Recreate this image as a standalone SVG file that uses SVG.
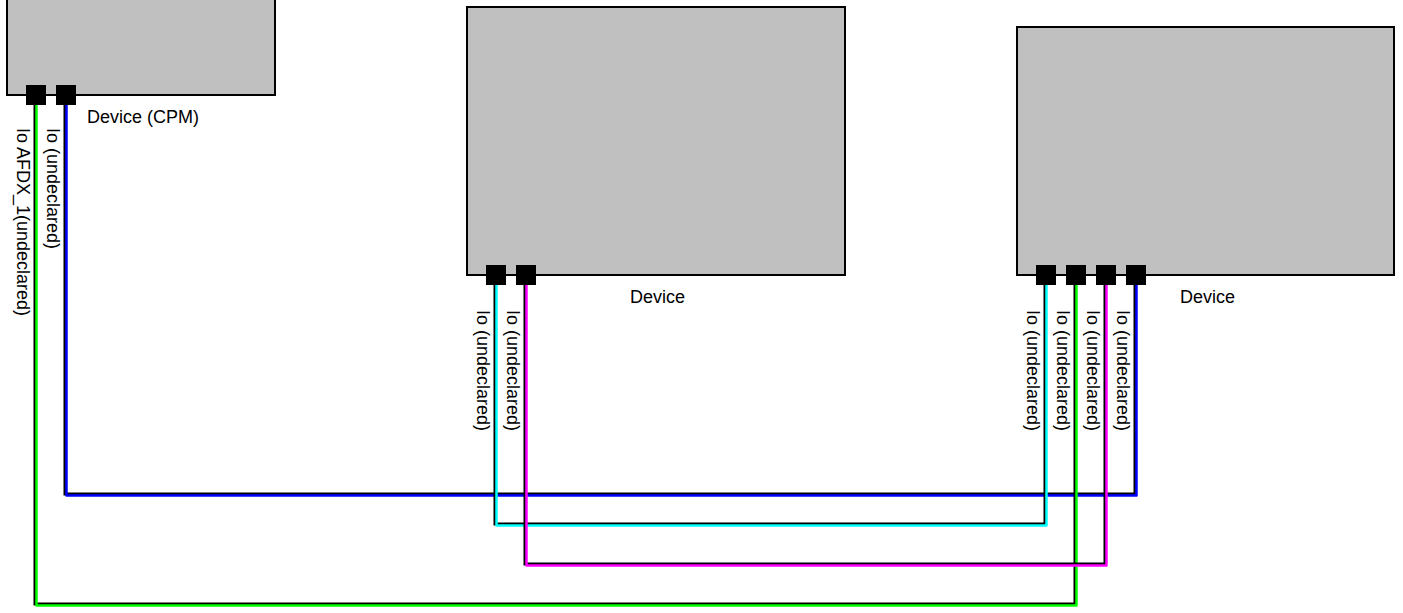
<svg xmlns="http://www.w3.org/2000/svg" width="1403" height="613" viewBox="0 0 1403 613">
<style>
.box{fill:#c0c0c0;stroke:#000;stroke-width:2}
.port{fill:#000}
text{font-family:"Liberation Sans",Arial,sans-serif;font-size:18px;fill:#000}
.under{fill:none;stroke:#000;stroke-width:3}
.wire{fill:none;stroke-width:2.5;stroke-linejoin:round}
</style>
<rect width="1403" height="613" fill="#fff"/>
<g id="connectors">
  <g id="c-blue">
    <polyline class="under" points="65,105 65,494 1135,494 1135,285"/>
    <polyline class="wire" stroke="#0000ff" points="66.5,105 66.5,495.5 1136.5,495.5 1136.5,285"/>
  </g>
  <g id="c-green">
    <polyline class="under" points="35,105 35,604 1075,604 1075,285"/>
    <polyline class="wire" stroke="#00ff00" points="36.5,105 36.5,605.5 1076.5,605.5 1076.5,285"/>
  </g>
  <g id="c-cyan">
    <polyline class="under" points="495,285 495,524 1045,524 1045,285"/>
    <polyline class="wire" stroke="#00ffff" points="496.5,285 496.5,525.5 1046.5,525.5 1046.5,285"/>
  </g>
  <g id="c-magenta">
    <polyline class="under" points="525,285 525,564 1105,564 1105,285"/>
    <polyline class="wire" stroke="#ff00ff" points="526.5,285 526.5,565.5 1106.5,565.5 1106.5,285"/>
  </g>
</g>
<g id="device-cpm">
  <rect class="box" x="7" y="-10" width="268" height="105"/>
  <rect class="port" x="26" y="85" width="20" height="20"/>
  <rect class="port" x="56" y="85" width="20" height="20"/>
  <text x="87" y="123">Device (CPM)</text>
  <text transform="translate(17,128) rotate(90)">Io AFDX_1(undeclared)</text>
  <text transform="translate(47,128) rotate(90)">Io (undeclared)</text>
</g>
<g id="device-mid">
  <rect class="box" x="467" y="7" width="378" height="268"/>
  <rect class="port" x="486" y="265" width="20" height="20"/>
  <rect class="port" x="516" y="265" width="20" height="20"/>
  <text x="630" y="303">Device</text>
  <text transform="translate(477,310) rotate(90)">Io (undeclared)</text>
  <text transform="translate(507,310) rotate(90)">Io (undeclared)</text>
</g>
<g id="device-right">
  <rect class="box" x="1017" y="27" width="377" height="248"/>
  <rect class="port" x="1036" y="265" width="20" height="20"/>
  <rect class="port" x="1066" y="265" width="20" height="20"/>
  <rect class="port" x="1096" y="265" width="20" height="20"/>
  <rect class="port" x="1126" y="265" width="20" height="20"/>
  <text x="1180" y="303">Device</text>
  <text transform="translate(1027,310) rotate(90)">Io (undeclared)</text>
  <text transform="translate(1057,310) rotate(90)">Io (undeclared)</text>
  <text transform="translate(1087,310) rotate(90)">Io (undeclared)</text>
  <text transform="translate(1117,310) rotate(90)">Io (undeclared)</text>
</g>
</svg>
